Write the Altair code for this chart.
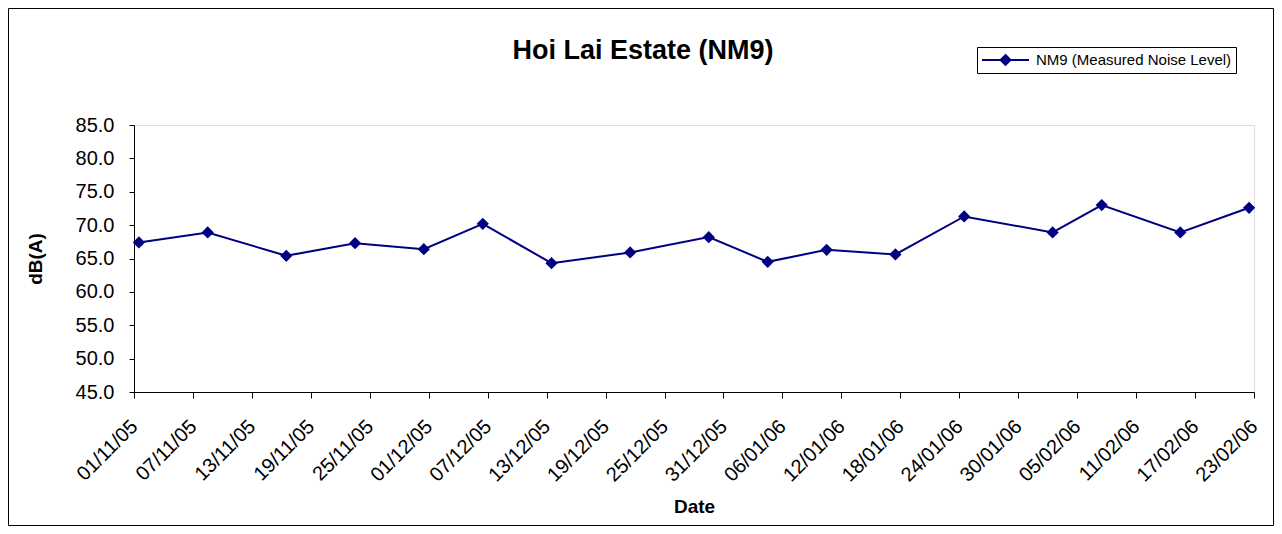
import altair as alt
import pandas as pd

# ---- data ----
chart_title = "Hoi Lai Estate (NM9)"
dates = ["2005-11-01", "2005-11-08", "2005-11-16", "2005-11-23", "2005-11-30",
         "2005-12-06", "2005-12-13", "2005-12-21", "2005-12-29", "2006-01-04",
         "2006-01-10", "2006-01-17", "2006-01-24", "2006-02-02", "2006-02-07",
         "2006-02-15", "2006-02-22"]
levels = [67.4, 68.9, 65.4, 67.3, 66.4,
          70.2, 64.3, 65.9, 68.2, 64.5,
          66.3, 65.6, 71.3, 68.9, 73.0,
          68.9, 72.6]
series_name = "NM9 (Measured Noise Level)"
tick_dates = ["2005-11-01", "2005-11-07", "2005-11-13", "2005-11-19", "2005-11-25",
              "2005-12-01", "2005-12-07", "2005-12-13", "2005-12-19", "2005-12-25",
              "2005-12-31", "2006-01-06", "2006-01-12", "2006-01-18", "2006-01-24",
              "2006-01-30", "2006-02-05", "2006-02-11", "2006-02-17", "2006-02-23"]
y_ticks = [45, 50, 55, 60, 65, 70, 75, 80, 85]


def dt(s, hour=0):
    y, m, d = (int(p) for p in s.split("-"))
    return alt.DateTime(year=y, month=m, date=d, hours=hour, utc=True)


df = pd.DataFrame({
    "date": [d + "T12:00:00Z" for d in dates],
    "level": levels,
    "series": [series_name] * len(dates),
})

FONT = "Arial"
NAVY = "#000080"

legend_symbol = "M-1,0H1M0,-0.21L0.21,0L0,0.21L-0.21,0Z"

line = alt.Chart(df).mark_line(
    color=NAVY, strokeWidth=2,
    point=alt.OverlayMarkDef(shape="diamond", size=150, filled=True, color=NAVY),
).encode(
    x=alt.X("date:T",
            scale=alt.Scale(type="utc", domain=[dt(tick_dates[0]), dt(tick_dates[-1])], nice=False),
            axis=alt.Axis(
                title="Date", values=[dt(t) for t in tick_dates],
                format="%d/%m/%y",
                labelAngle=315, labelAlign="right", labelBaseline="top",
                labelOffset=-7, labelPadding=18, tickSize=6,
                labelFontSize=20, titleFontSize=19, titlePadding=12,
                labelFont=FONT, titleFont=FONT, grid=False,
                domainColor="black", tickColor="black",
                labelColor="black", titleColor="black",
                labelOverlap=False, labelFlush=False,
            )),
    y=alt.Y("level:Q",
            scale=alt.Scale(domain=[45, 85], nice=False, zero=False),
            axis=alt.Axis(
                title="dB(A)", values=y_ticks, format=".1f",
                tickSize=5, labelPadding=15, titlePadding=30,
                labelFontSize=20, titleFontSize=19,
                labelFont=FONT, titleFont=FONT, grid=False,
                domainColor="black", tickColor="black",
                labelColor="black", titleColor="black",
            )),
    color=alt.Color("series:N",
                    scale=alt.Scale(range=[NAVY]),
                    legend=alt.Legend(
                        title=None, orient="none", legendX=843, legendY=-78,
                        symbolType=legend_symbol, symbolSize=2209,
                        symbolStrokeWidth=2, symbolFillColor=NAVY,
                        symbolStrokeColor=NAVY, symbolOpacity=1,
                        labelFont=FONT, labelFontSize=15, labelColor="black",
                        labelOffset=6, labelLimit=400, padding=4, clipHeight=18,
                        strokeColor="black", fillColor="white",
                    )),
)

title_df = pd.DataFrame({"title": [chart_title]})
title = alt.Chart(title_df).mark_text(
    font=FONT, fontSize=27, fontWeight="bold", color="black",
    align="center", baseline="alphabetic",
).encode(text="title:N", x=alt.value(509), y=alt.value(-66))

frame = alt.Chart(title_df).mark_rect(fill=None, stroke="black", strokeWidth=1).encode(
    x=alt.value(-125.5), x2=alt.value(1139.5),
    y=alt.value(-116.5), y2=alt.value(400.5),
)

chart = alt.layer(frame, title, line).properties(
    width=1120, height=267,
    autosize=alt.AutoSizeParams(type="none"),
    padding={"left": 126, "top": 117, "right": 20, "bottom": 134},
).configure_view(stroke=None).configure(background="white")

chart.save("out.html", embed_options={"renderer": "svg", "actions": False})
